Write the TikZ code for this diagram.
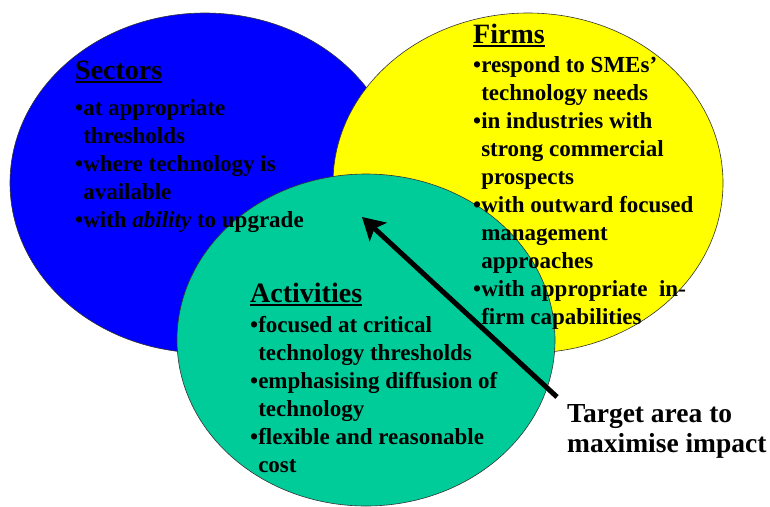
\documentclass[tikz,border=0pt]{standalone}
\usepackage{fontspec}
\setmainfont{Liberation Serif}
\usepackage{xcolor}
\usetikzlibrary{arrows.meta}

\definecolor{sectorblue}{RGB}{0,0,255}
\definecolor{firmyellow}{RGB}{255,255,0}
\definecolor{actgreen}{RGB}{0,204,153}

\newcommand{\headline}[1]{\setbox0\hbox{#1}\rlap{\rule[-4pt]{\wd0}{2.5pt}}\box0}
\newcommand{\bul}{•}
\newcommand{\hang}{\hphantom{•}}

\begin{document}
\begin{tikzpicture}[x=1pt,y=-1pt,
    heading/.style={anchor=base west,inner sep=0pt,font=\bfseries\fontsize{28}{30}\selectfont},
    bodytext/.style={anchor=base west,inner sep=0pt,align=left,font=\bfseries\fontsize{23}{28}\selectfont},
    circ/.style={draw=black!80,line width=0.6pt}]
    \useasboundingbox (0,0) rectangle (770,506);
    % the three sets
    \filldraw[circ, fill=sectorblue](205,183) ellipse (195pt and 170pt);
    \filldraw[circ, fill=firmyellow](528,183) ellipse (195pt and 170pt);
    \filldraw[circ, fill=actgreen](366,340) ellipse (189pt and 166pt);
    % sectors (lists sit on the baseline of their last line)
    \node[heading] (sectors) at (75,79) {\headline{Sectors}};
    \node[bodytext] (sectorlist) at (75,227) {\bul at appropriate\\
        \hang thresholds\\
        \bul where technology is\\
        \hang available\\
        \bul with \textit{ability} to upgrade};
    % firms
    \node[heading] (firms) at (473,43) {\headline{Firms}};
    \node[bodytext] (firmlist) at (473,324) {\bul respond to SMEs’\\
        \hang technology needs\\
        \bul in industries with\\
        \hang strong commercial\\
        \hang prospects\\
        \bul with outward focused\\
        \hang management\\
        \hang approaches\\
        \bul with appropriate \ in-\\
        \hang firm capabilities};
    % activities
    \node[heading] (activities) at (250,302) {\headline{Activities}};
    \node[bodytext] (actlist) at (250,472) {\bul focused at critical\\
        \hang technology thresholds\\
        \bul emphasising diffusion of\\
        \hang technology\\
        \bul flexible and reasonable\\
        \hang cost};
    % target
    \node[heading, align=left, font=\bfseries\fontsize{27.5}{30}\selectfont] (target) at (567,452) {Target area to\\maximise impact};
    \coordinate (tail) at (557,397);
    \coordinate (aim) at (362,217);
    \draw[-{Stealth[length=22pt,width=25pt,inset=5pt]}, line width=5pt](tail) -- (aim);
\end{tikzpicture}
\end{document}
